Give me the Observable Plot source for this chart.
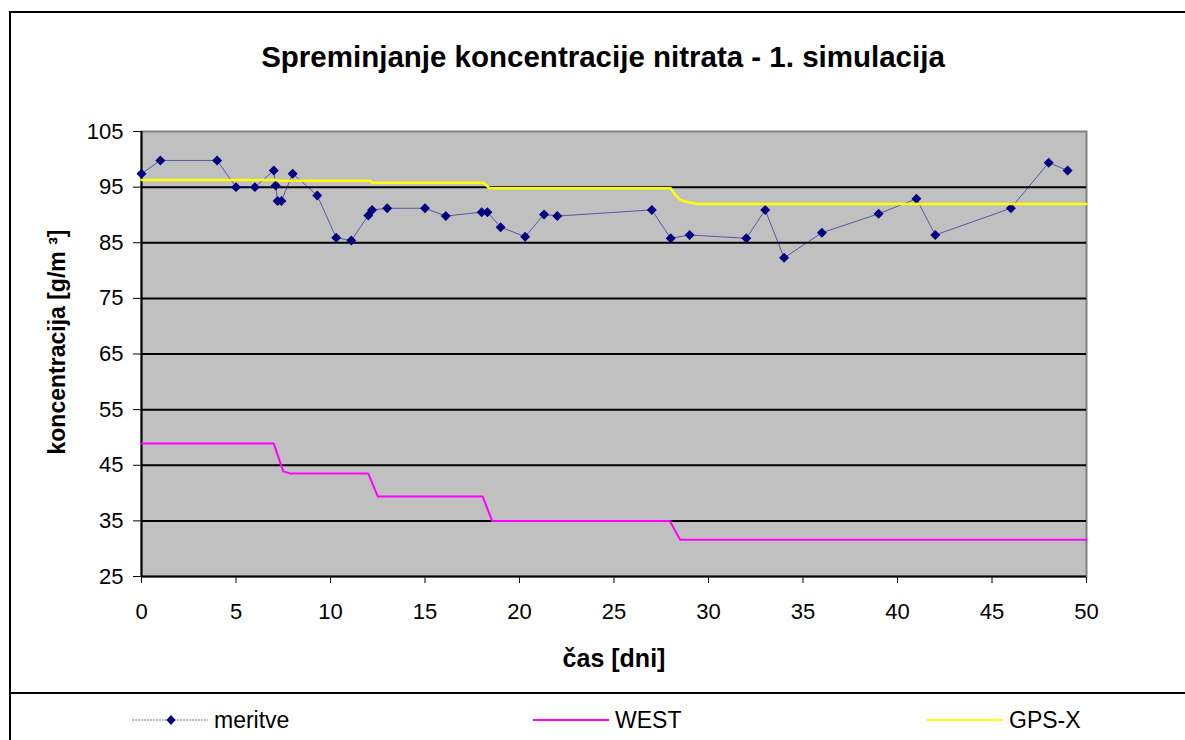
<!DOCTYPE html>
<html>
<head>
<meta charset="utf-8">
<script src="https://cdn.jsdelivr.net/npm/d3@7"></script>
<script src="https://cdn.jsdelivr.net/npm/@observablehq/plot@0.6"></script>
<style>
  html, body { margin: 0; padding: 0; background: #fff; }
  #wrap { position: relative; width: 1185px; height: 740px; overflow: hidden; font-family: "Liberation Sans", Arial, sans-serif; }
  #border { position: absolute; left: 9px; top: 11px; width: 1200px; height: 760px; border-left: 2px solid #000; border-top: 2px solid #000; box-sizing: border-box; }
  #sep { position: absolute; left: 9px; top: 692px; width: 1200px; height: 2px; background: #000; }
  #title { position: absolute; left: 0; top: 39px; width: 1206px; text-align: center; font-weight: bold; font-size: 29.5px; line-height: 36px; color: #000; }
  #chart { position: absolute; left: 0; top: 0; }
  .leg { position: absolute; top: 705px; height: 30px; display: flex; align-items: center; font-size: 23px; color: #000; }
  .leg svg { margin-right: 6px; }
</style>
</head>
<body>
<div id="wrap">
  <div id="border"></div>
  <div id="sep"></div>
  <div id="title">Spreminjanje koncentracije nitrata - 1. simulacija</div>
  <div id="chart"></div>
  <div class="leg" style="left:132px"><svg width="76" height="14"><line x1="0" y1="7" x2="76" y2="7" stroke="#000080" stroke-opacity="0.55" stroke-width="1" stroke-dasharray="2,1"/><path d="M39,2 L43.5,7 L39,12 L34.5,7 Z" fill="#000080"/></svg><span>meritve</span></div>
  <div class="leg" style="left:533px"><svg width="76" height="14"><line x1="0" y1="7" x2="76" y2="7" stroke="#FF00FF" stroke-width="2"/></svg><span>WEST</span></div>
  <div class="leg" style="left:927px"><svg width="76" height="14"><line x1="0" y1="7" x2="76" y2="7" stroke="#FFFF00" stroke-width="2"/></svg><span>GPS-X</span></div>
</div>
<script>
// meritve (measurements)
const meritveX = [0, 1, 4, 5, 6, 7, 7.1, 7.2, 7.4, 8, 9.3, 10.3, 11.1, 12.0, 12.2, 13, 15, 16.1, 18, 18.3, 19, 20.3, 21.3, 22, 27, 28, 29, 32, 33, 34, 36, 39, 41, 42, 46, 48, 49];
const meritveY = [97.4, 99.8, 99.8, 95.0, 95.0, 98.0, 95.3, 92.5, 92.5, 97.4, 93.5, 85.9, 85.4, 89.9, 90.9, 91.2, 91.2, 89.8, 90.5, 90.5, 87.8, 86.1, 90.1, 89.8, 90.9, 85.8, 86.4, 85.8, 90.9, 82.3, 86.8, 90.2, 92.9, 86.4, 91.2, 99.4, 98.0];
// WEST simulation
const westX = [0, 7.0, 7.5, 7.9, 12.0, 12.5, 18.05, 18.55, 27.95, 28.5, 50];
const westY = [48.9, 48.9, 43.9, 43.5, 43.5, 39.4, 39.4, 35.0, 35.0, 31.6, 31.6];
// GPS-X simulation
const gpsX = [0, 7.1, 7.2, 12.1, 12.2, 18.1, 18.4, 28.0, 28.26, 28.5, 28.8, 29.4, 50];
const gpsY = [96.3, 96.3, 96.15, 96.15, 95.8, 95.8, 94.8, 94.8, 93.5, 92.7, 92.4, 91.95, 91.95];
// ticks
const xTicks = [0, 5, 10, 15, 20, 25, 30, 35, 40, 45, 50];
const yTicks = [25, 35, 45, 55, 65, 75, 85, 95, 105];
const gridY = [35, 45, 55, 65, 75, 85, 95];
const xLabel = "čas [dni]";
const yLabel = "koncentracija [g/m ³]";

const meritve = meritveX.map((x, i) => ({x, y: meritveY[i]}));
const west = westX.map((x, i) => ({x, y: westY[i]}));
const gps = gpsX.map((x, i) => ({x, y: gpsY[i]}));

const plot = Plot.plot({
  width: 1185,
  height: 692,
  marginLeft: 141,
  marginRight: 99,
  marginTop: 131,
  marginBottom: 116,
  style: { background: "transparent", fontFamily: "'Liberation Sans', Arial, sans-serif", fontSize: "22px", color: "#000", overflow: "visible" },
  x: { domain: [0, 50], ticks: xTicks, tickSize: 7, tickPadding: 20, tickFormat: d => String(d), label: null },
  y: { domain: [25, 105], ticks: yTicks, tickSize: 8, tickPadding: 10, tickFormat: d => String(d), label: null },
  marks: [
    Plot.frame({ fill: "#C0C0C0", stroke: "#808080", strokeWidth: 2 }),
    Plot.ruleY(gridY, { stroke: "#000", strokeWidth: 2 }),
    Plot.ruleY([25], { stroke: "#000", strokeWidth: 2 }),
    Plot.ruleX([0], { stroke: "#000", strokeWidth: 2 }),
    Plot.line(meritve, { x: "x", y: "y", stroke: "#000080", strokeWidth: 1, strokeOpacity: 0.55 }),
    Plot.dot(meritve, { x: "x", y: "y", symbol: "diamond2", fill: "#000080", stroke: "none", r: 4.5 }),
    Plot.line(west, { x: "x", y: "y", stroke: "#FF00FF", strokeWidth: 2 }),
    Plot.line(gps, { x: "x", y: "y", stroke: "#FFFF00", strokeWidth: 2.5 }),
    Plot.text([xLabel], { text: d => d, frameAnchor: "bottom", dy: 82, fontWeight: "bold", fontSize: 25, lineAnchor: "middle" }),
    Plot.text([yLabel], { text: d => d, frameAnchor: "left", dx: -84, dy: -12, rotate: -90, textAnchor: "middle", fontWeight: "bold", fontSize: 23, lineAnchor: "middle" })
  ]
});
document.getElementById("chart").appendChild(plot);
</script>
</body>
</html>
